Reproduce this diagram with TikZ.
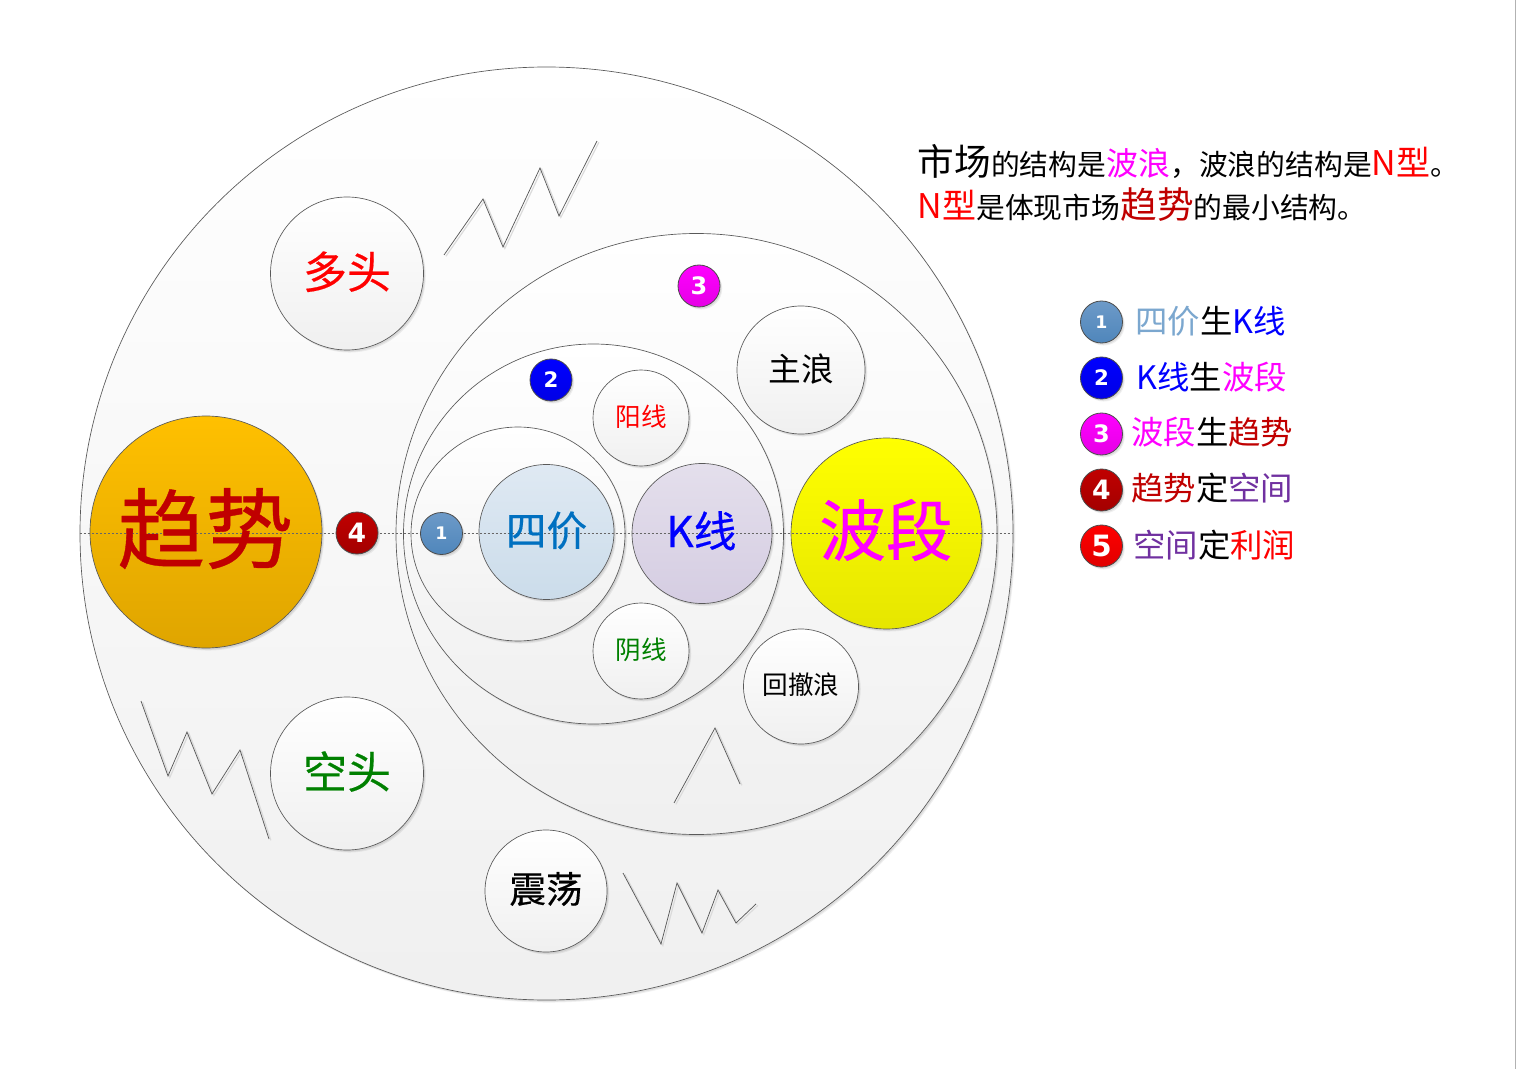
\documentclass[tikz,border=0pt]{standalone}
\usepackage{fontspec}
\setmainfont{Noto Sans CJK SC}
\newfontfamily\heavy[FakeBold=0.4]{Noto Sans CJK SC}
\newfontfamily\digitfont{DejaVu Sans}
\usetikzlibrary{shadows}
\definecolor{cred}{HTML}{FF0000}
\definecolor{cdark}{HTML}{C00000}
\definecolor{cpink}{HTML}{FF00FF}
\definecolor{cblue}{HTML}{0000FF}
\definecolor{cpurple}{HTML}{7030A0}
\definecolor{clight}{HTML}{7BA7CF}
\definecolor{cnavy}{HTML}{0070C0}
\definecolor{cgreen}{HTML}{008000}
\definecolor{edge}{HTML}{595959}
\definecolor{siTop}{HTML}{DFE9F3}
\definecolor{siBot}{HTML}{CBDCEA}
\definecolor{kTop}{HTML}{E4DFEC}
\definecolor{kBot}{HTML}{D5CDE2}
\definecolor{qTop}{HTML}{FFC000}
\definecolor{qBot}{HTML}{DFA500}
\definecolor{bTop}{HTML}{FFFF00}
\definecolor{bBot}{HTML}{E6E600}
\definecolor{oneTop}{HTML}{6D9AC8}
\definecolor{oneBot}{HTML}{4F86BB}
\newcommand{\fs}[1]{\fontsize{#1pt}{#1pt}\selectfont}
\tikzset{
  softshadow/.style={general shadow={shadow xshift=1.7pt,shadow yshift=-1.9pt,opacity=.06,fill=black},
                     general shadow={shadow xshift=1.1pt,shadow yshift=-1.2pt,opacity=.08,fill=black}},
  ring/.style={circle,draw=edge,line width=.5pt,inner sep=0pt,minimum size=#1*.75pt,softshadow},
  silver/.style={ring=#1,top color=white,bottom color=black!6},
  blank/.style={ring=#1,top color=white,bottom color=black!6},
  badge/.style={circle,draw=black!70,line width=.6pt,inner sep=0pt,minimum size=31.5pt,softshadow,
                text=white,font=\digitfont\bfseries},
  zig/.style={draw=edge,line width=.55pt,line join=miter},
  zigshade/.style={draw=black!14,line width=.9pt,line join=miter,xshift=1.4pt,yshift=-1pt},
  lab/.style={inner sep=0pt},
  legendtext/.style={anchor=base west,inner sep=0pt,font=\fs{24.3}},
  headtext/.style={anchor=base west,inner sep=0pt},
}
\begin{document}
\begin{tikzpicture}[x=.75pt,y=-.75pt]
\useasboundingbox (0,0) rectangle (1516,1069);
\fill[white] (0,0) rectangle (1516,1069);
\coordinate (ea) at (1515,0);
\coordinate (eb) at (1515,1069);
\draw[black!30,line width=.6pt] (ea) -- (eb);

% nested circles
\node[silver=933] (outer) at (546.5,533.5) {};
\node[silver=601] (wave) at (696.5,534) {};
\node[silver=380] (kring) at (593.5,534) {};
\node[silver=214] (fring) at (518,534) {};

% satellite circles
\node[blank=153] (duo) at (347,273.5) {};
\node[blank=153] (kong) at (347,773.5) {};
\node[blank=122] (zhen) at (546,891) {};
\node[blank=128] (zhu) at (801,370) {};
\node[blank=115] (hui) at (801,686.5) {};
\node[blank=96] (yang) at (641,418) {};
\node[blank=96] (yin) at (641,651) {};

\node[lab,font=\heavy\fs{33},text=cred] (duot) at ([yshift=1.3pt]duo.center) {多头};
\node[lab,font=\heavy\fs{33},text=cgreen] (kongt) at ([yshift=1.5pt]kong.center) {空头};
\node[lab,font=\heavy\fs{27.5},text=black] (zhent) at ([yshift=1.5pt]zhen.center) {震荡};
\node[lab,font=\fs{24.5},text=black] (zhut) at ([yshift=1pt]zhu.center) {主浪};
\node[lab,font=\fs{19.2},text=black] (huit) at ([yshift=1pt]hui.center) {回撤浪};
\node[lab,font=\fs{19.2},text=cred] (yangt) at ([yshift=.6pt]yang.center) {阳线};
\node[lab,font=\fs{19.2},text=cgreen] (yint) at ([yshift=.6pt]yin.center) {阴线};

% main circles
\node[ring=135,top color=siTop,bottom color=siBot] (si) at (546.5,532) {};
\node[ring=140,top color=kTop,bottom color=kBot] (kx) at (702,533.5) {};
\node[ring=232,top color=qTop,bottom color=qBot] (qs) at (206,532) {};
\node[ring=191,top color=bTop,bottom color=bBot] (bd) at (886.5,533.5) {};

% axis
\draw[black!10,dash pattern=on 1.5pt off 1.5pt,line width=.5pt,yshift=-1.5pt] (outer.west) -- (outer.east);
\draw[black!60,dash pattern=on 1.5pt off 1.5pt,line width=.45pt] (outer.west) -- (outer.east);

% labels of main circles
\node[lab,font=\heavy\fs{30.5},text=cnavy] (sit) at ([yshift=1.2pt]si.center) {四价};
\node[lab,font=\heavy\fs{32},text=cblue] (kxt) at ([xshift=-.5pt,yshift=2pt]kx.center) {K线};
\node[lab,font=\heavy\fs{66},text=cdark] (qst) at ([xshift=-.6pt,yshift=2.6pt]qs.center) {趋势};
\node[lab,font=\heavy\fs{50},text=cpink] (bdt) at ([xshift=-.4pt,yshift=2.6pt]bd.center) {波段};

% zigzags
\draw[zigshade] (444,255) -- (483,199) -- (503,247) -- (540,168) -- (559,216) -- (597,141);
\draw[zigshade] (141,701) -- (168,776) -- (187,732) -- (212,794) -- (240,750) -- (269,839);
\draw[zigshade] (674,803) -- (715,728) -- (740,784);
\draw[zigshade] (623,873) -- (661,944) -- (677,883) -- (702,933) -- (718,890) -- (736,923) -- (756,904);
\draw[zig] (444,255) -- (483,199) -- (503,247) -- (540,168) -- (559,216) -- (597,141);
\draw[zig] (141,701) -- (168,776) -- (187,732) -- (212,794) -- (240,750) -- (269,839);
\draw[zig] (674,803) -- (715,728) -- (740,784);
\draw[zig] (623,873) -- (661,944) -- (677,883) -- (702,933) -- (718,890) -- (736,923) -- (756,904);

% numbered badges on the diagram
\node[badge,top color=cdark,bottom color=cdark!85!black,font=\digitfont\bfseries\fs{20}] (b4) at (357,533) {4};
\node[badge,top color=oneTop,bottom color=oneBot,font=\digitfont\bfseries\fs{13}] (b1) at (441.5,533.5) {1};
\node[badge,top color=cblue,bottom color=cblue!90!black,font=\digitfont\bfseries\fs{16}] (b2) at (551,380) {2};
\node[badge,top color=cpink,bottom color=cpink!90!black,font=\digitfont\bfseries\fs{18}] (b3) at (699,286) {3};

% heading
\node[headtext] (h1) at (917.5,176) {\fs{27.5}市场\fs{21.6}的结构是{\fs{24}\color{cpink}波浪}，波浪的结构是{\fs{25.5}\color{cred}N型}。};
\node[headtext] (h2) at (917.5,218.5) {{\fs{25.5}\color{cred}N型}\fs{21.6}是体现市场{\fs{27.5}\color{cdark}趋势}的最小结构。};

% legend
\node[badge,top color=oneTop,bottom color=oneBot,font=\digitfont\bfseries\fs{13}] (l1) at (1101.5,322) {1};
\node[badge,top color=cblue,bottom color=cblue!90!black,font=\digitfont\bfseries\fs{16}] (l2) at (1101.5,378) {2};
\node[badge,top color=cpink,bottom color=cpink!90!black,font=\digitfont\bfseries\fs{18}] (l3) at (1101.5,434) {3};
\node[badge,top color=cdark,bottom color=cdark!85!black,font=\digitfont\bfseries\fs{20}] (l4) at (1101.5,490) {4};
\node[badge,top color=cred,bottom color=cred!88!black,font=\digitfont\bfseries\fs{22}] (l5) at (1101.5,546) {5};
\node[legendtext] (t1) at (1135,334) {{\color{clight}四价}生{\color{cblue}K线}};
\node[legendtext] (t2) at (1136,390) {{\color{cblue}K线}生{\color{cpink}波段}};
\node[legendtext] (t3) at (1131,445) {{\color{cpink}波段}生{\color{cdark}趋势}};
\node[legendtext] (t4) at (1131,500.5) {{\color{cdark}趋势}定{\color{cpurple}空间}};
\node[legendtext] (t5) at (1133,557.5) {{\color{cpurple}空间}定{\color{cred}利润}};
\end{tikzpicture}
\end{document}
